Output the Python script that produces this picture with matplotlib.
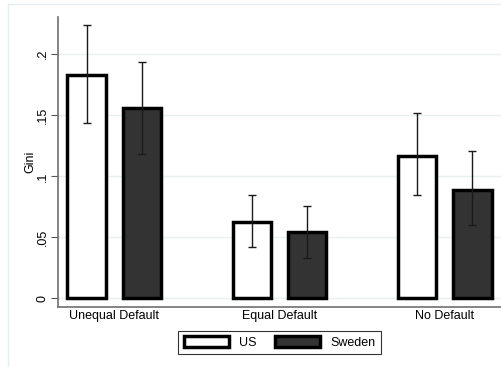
import matplotlib
matplotlib.use("Agg")
import matplotlib.pyplot as plt
import numpy as np
from matplotlib.patches import Patch
from matplotlib.lines import Line2D

plt.rcParams['font.family'] = ['Liberation Sans', 'DejaVu Sans']

categories = ["Unequal Default", "Equal Default", "No Default"]
series = ["US", "Sweden"]
us_gini = [0.183, 0.063, 0.117]
us_low = [0.144, 0.042, 0.085]
us_high = [0.224, 0.085, 0.152]
se_gini = [0.156, 0.054, 0.089]
se_low = [0.118, 0.033, 0.060]
se_high = [0.194, 0.076, 0.121]
yticks = [0, 0.05, 0.1, 0.15, 0.2]
ytick_labels = ["0", ".05", ".1", ".15", ".2"]

fig = plt.figure(figsize=(5.02, 3.67), dpi=100)
fig.patch.set_facecolor("white")

# light outer graph-region border
frame_col = "#e6eef0"
fig.add_artist(Line2D([0.016, 1.0], [0.989, 0.989], transform=fig.transFigure,
                      color=frame_col, lw=1.0))
fig.add_artist(Line2D([0.016, 0.016], [0.0, 0.989], transform=fig.transFigure,
                      color=frame_col, lw=1.0))

ax = fig.add_axes([0.1155, 0.1635, 0.8825, 0.790])
x = np.arange(len(categories))
off = 0.167
w = 0.235

ax.bar(x - off, us_gini, width=w, color="white", edgecolor="black", linewidth=2.5,
       zorder=3, label="US")
ax.bar(x + off, se_gini, width=w, color="#333333", edgecolor="black", linewidth=2.5,
       zorder=3, label="Sweden")

for xs, g, lo, hi in [(x - off, us_gini, us_low, us_high), (x + off, se_gini, se_low, se_high)]:
    g = np.array(g)
    yerr = np.vstack([g - np.array(lo), np.array(hi) - g])
    ax.errorbar(xs, g, yerr=yerr, fmt="none", ecolor="#1a1a1a", elinewidth=1.0,
                capsize=2.6, capthick=1.0, zorder=4)

ax.set_xlim(-0.342, 2.342)
ax.set_ylim(-0.007, 0.2304)
ax.set_yticks(yticks)
ax.set_yticklabels(ytick_labels, rotation=90, va="center", fontsize=9)
ax.set_xticks(x)
ax.set_xticklabels(categories, fontsize=9)
ax.tick_params(axis="x", length=0, pad=2.5)
ax.tick_params(axis="y", length=5, width=0.8, color="#555555", pad=1.5)
ax.set_ylabel("Gini", fontsize=9, labelpad=0.5)

for s in ["top", "right"]:
    ax.spines[s].set_visible(False)
for s in ["left", "bottom"]:
    ax.spines[s].set_color("#707070")
    ax.spines[s].set_linewidth(1.2)

ax.grid(axis="y", color="#e8f0f2", lw=1.0, zorder=0)
ax.set_axisbelow(True)

handles = [Patch(facecolor="white", edgecolor="black", linewidth=2.5),
           Patch(facecolor="#333333", edgecolor="black", linewidth=2.5)]
leg = fig.legend(handles, series, loc="center", bbox_to_anchor=(0.557, 0.067),
                 ncol=2, fontsize=9, frameon=True, fancybox=False, edgecolor="black",
                 handlelength=3.6, handleheight=0.9, columnspacing=1.5,
                 handletextpad=0.8, borderpad=0.45, borderaxespad=0)
leg.get_frame().set_linewidth(0.8)

fig.savefig("out.png", dpi=100, facecolor="white")
